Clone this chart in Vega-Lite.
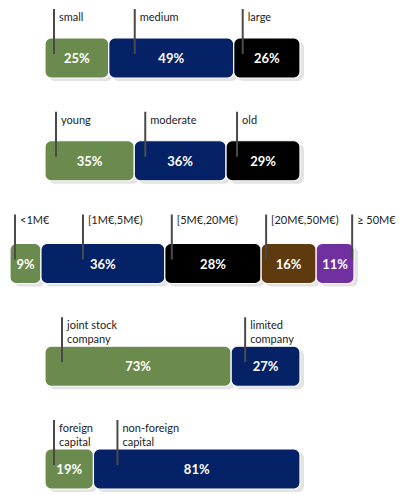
{
  "$schema": "https://vega.github.io/schema/vega-lite/v6.json",
  "width": 400,
  "height": 495,
  "autosize": {"type": "fit", "contains": "padding"},
  "padding": 0,
  "background": "white",
  "config": {"view": {"stroke": null}},
  "data": {
    "values": [
      {"grp": 1, "ord": 1, "cat": "small", "pct": 25},
      {"grp": 1, "ord": 2, "cat": "medium", "pct": 49},
      {"grp": 1, "ord": 3, "cat": "large", "pct": 26},
      {"grp": 2, "ord": 1, "cat": "young", "pct": 35},
      {"grp": 2, "ord": 2, "cat": "moderate", "pct": 36},
      {"grp": 2, "ord": 3, "cat": "old", "pct": 29},
      {"grp": 3, "ord": 1, "cat": "<1M€", "pct": 9},
      {"grp": 3, "ord": 2, "cat": "[1M€,5M€)", "pct": 36},
      {"grp": 3, "ord": 3, "cat": "[5M€,20M€)", "pct": 28},
      {"grp": 3, "ord": 4, "cat": "[20M€,50M€)", "pct": 16},
      {"grp": 3, "ord": 5, "cat": "≥ 50M€", "pct": 11},
      {"grp": 4, "ord": 1, "cat": "joint stock\ncompany", "pct": 73},
      {"grp": 4, "ord": 2, "cat": "limited\ncompany", "pct": 27},
      {"grp": 5, "ord": 1, "cat": "foreign\ncapital", "pct": 19},
      {"grp": 5, "ord": 2, "cat": "non-foreign\ncapital", "pct": 81}
    ]
  },
  "transform": [
    {"stack": "pct", "groupby": ["grp"], "sort": [{"field": "ord", "order": "ascending"}], "as": ["x0", "x1"]},
    {"calculate": "(datum.x0 + datum.x1) / 2", "as": "xm"},
    {"calculate": "datum.pct + '%'", "as": "plabel"}
  ],
  "encoding": {
    "y": {"field": "grp", "type": "quantitative", "scale": {"domain": [1, 5], "range": [58, 469], "zero": false, "nice": false}, "axis": null}
  },
  "layer": [
    {
      "transform": [{"filter": "datum.grp != 3"}],
      "layer": [
        {
          "mark": {"type": "rect", "color": "#e3e3e3", "cornerRadius": 6, "xOffset": 4, "x2Offset": 4, "yOffset": -17, "y2Offset": 23},
          "encoding": {
            "x": {"field": "x0", "type": "quantitative", "scale": {"domain": [0, 100], "range": [45, 300], "zero": false, "nice": false}, "axis": null},
            "x2": {"field": "x1"},
            "y2": {"field": "grp"}
          }
        },
        {
          "mark": {"type": "rect", "cornerRadius": 6, "stroke": "white", "strokeWidth": 1.2, "yOffset": -20, "y2Offset": 20},
          "encoding": {
            "x": {"field": "x0", "type": "quantitative", "scale": {"domain": [0, 100], "range": [45, 300], "zero": false, "nice": false}, "axis": null},
            "x2": {"field": "x1"},
            "y2": {"field": "grp"},
            "color": {"field": "ord", "type": "ordinal", "scale": {"domain": [1, 2, 3, 4, 5], "range": ["#6B8B4E", "#062266", "#000000", "#5E3A0E", "#7030A0"]}, "legend": null}
          }
        },
        {
          "mark": {"type": "rule", "color": "#4a4a4a", "strokeWidth": 2, "yOffset": -49, "y2Offset": -4,
            "xOffset": {"expr": "datum.cat==='medium'?26:(datum.grp==5&&datum.ord==2)?24:(datum.grp==4&&datum.ord==1)?17:(datum.grp==4&&datum.ord==2)?14:(datum.grp==2)?11:9"}},
          "encoding": {
            "x": {"field": "x0", "type": "quantitative", "scale": {"domain": [0, 100], "range": [45, 300], "zero": false, "nice": false}, "axis": null},
            "y2": {"field": "grp"}
          }
        },
        {
          "mark": {"type": "text", "align": "left", "baseline": "bottom", "lineBreak": "\n", "lineHeight": 14, "font": "Lato", "fontSize": 11, "color": "#222222", "yOffset": -35,
            "xOffset": {"expr": "5+(datum.cat==='medium'?26:(datum.grp==5&&datum.ord==2)?24:(datum.grp==4&&datum.ord==1)?17:(datum.grp==4&&datum.ord==2)?14:(datum.grp==2)?11:9)"}},
          "encoding": {
            "x": {"field": "x0", "type": "quantitative", "scale": {"domain": [0, 100], "range": [45, 300], "zero": false, "nice": false}, "axis": null},
            "text": {"field": "cat"}
          }
        },
        {
          "mark": {"type": "text", "align": "center", "baseline": "middle", "font": "Lato", "fontSize": 13, "fontWeight": "bold", "color": "white", "yOffset": 1},
          "encoding": {
            "x": {"field": "xm", "type": "quantitative", "scale": {"domain": [0, 100], "range": [45, 300], "zero": false, "nice": false}, "axis": null},
            "text": {"field": "plabel"}
          }
        }
      ]
    },
    {
      "transform": [{"filter": "datum.grp == 3"}],
      "layer": [
        {
          "mark": {"type": "rect", "color": "#e3e3e3", "cornerRadius": 6, "xOffset": 4, "x2Offset": 4, "yOffset": -17, "y2Offset": 23},
          "encoding": {
            "x": {"field": "x0", "type": "quantitative", "scale": {"domain": [0, 100], "range": [10, 354], "zero": false, "nice": false}, "axis": null},
            "x2": {"field": "x1"},
            "y2": {"field": "grp"}
          }
        },
        {
          "mark": {"type": "rect", "cornerRadius": 6, "stroke": "white", "strokeWidth": 1.2, "yOffset": -20, "y2Offset": 20},
          "encoding": {
            "x": {"field": "x0", "type": "quantitative", "scale": {"domain": [0, 100], "range": [10, 354], "zero": false, "nice": false}, "axis": null},
            "x2": {"field": "x1"},
            "y2": {"field": "grp"},
            "color": {"field": "ord", "type": "ordinal", "scale": {"domain": [1, 2, 3, 4, 5], "range": ["#6B8B4E", "#062266", "#000000", "#5E3A0E", "#7030A0"]}, "legend": null}
          }
        },
        {
          "mark": {"type": "rule", "color": "#4a4a4a", "strokeWidth": 2, "yOffset": -49, "y2Offset": -4,
            "xOffset": {"expr": "datum.ord==2?42:datum.ord==5?36:datum.ord==3?7:5"}},
          "encoding": {
            "x": {"field": "x0", "type": "quantitative", "scale": {"domain": [0, 100], "range": [10, 354], "zero": false, "nice": false}, "axis": null},
            "y2": {"field": "grp"}
          }
        },
        {
          "mark": {"type": "text", "align": "left", "baseline": "bottom", "font": "Lato", "fontSize": 11, "color": "#222222", "yOffset": -38,
            "xOffset": {"expr": "5+(datum.ord==2?42:datum.ord==5?36:datum.ord==3?7:5)"}},
          "encoding": {
            "x": {"field": "x0", "type": "quantitative", "scale": {"domain": [0, 100], "range": [10, 354], "zero": false, "nice": false}, "axis": null},
            "text": {"field": "cat"}
          }
        },
        {
          "mark": {"type": "text", "align": "center", "baseline": "middle", "font": "Lato", "fontSize": 13, "fontWeight": "bold", "color": "white", "yOffset": 1},
          "encoding": {
            "x": {"field": "xm", "type": "quantitative", "scale": {"domain": [0, 100], "range": [10, 354], "zero": false, "nice": false}, "axis": null},
            "text": {"field": "plabel"}
          }
        }
      ]
    }
  ],
  "resolve": {"scale": {"x": "independent"}}
}
